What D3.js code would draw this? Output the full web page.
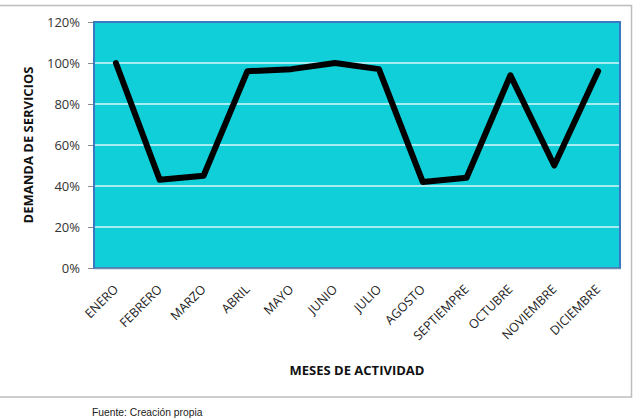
<!DOCTYPE html>
<html>
<head>
<meta charset="utf-8">
<script src="https://cdn.jsdelivr.net/npm/d3@7"></script>
<style>
  body { margin: 0; background: #fff; }
  text { font-family: "Open Sans", Lato, sans-serif; }
</style>
</head>
<body>
<div id="container"></div>
<script>
/* DATA */
const months = ["ENERO", "FEBRERO", "MARZO", "ABRIL", "MAYO", "JUNIO", "JULIO",
  "AGOSTO", "SEPTIEMPRE", "OCTUBRE", "NOVIEMBRE", "DICIEMBRE"];
const demand = [1.00, 0.43, 0.45, 0.96, 0.97, 1.00, 0.97, 0.42, 0.44, 0.94, 0.50, 0.96];
const yTicks = [0, 0.2, 0.4, 0.6, 0.8, 1.0, 1.2];

/* CONSTANTS */
const width = 636, height = 420;
const plot = { left: 94, top: 22, right: 620, bottom: 268 };

const data = months.map((m, i) => ({ month: m, value: demand[i] }));

const svg = d3.select("#container").append("svg")
  .attr("width", width)
  .attr("height", height);

// outer chart frame
svg.append("rect")
  .attr("x", -2).attr("y", 5.5)
  .attr("width", 633.5).attr("height", 391.5)
  .attr("fill", "#fff")
  .attr("stroke", "#bdbdbd")
  .attr("stroke-width", 1.5);

/* SCALES */
const xScale = d3.scaleBand()
  .domain(months)
  .range([plot.left, plot.right]);

const yScale = d3.scaleLinear()
  .domain([0, 1.2])
  .range([plot.bottom, plot.top]);

// plot area
svg.append("rect")
  .attr("x", plot.left).attr("y", plot.top)
  .attr("width", plot.right - plot.left)
  .attr("height", plot.bottom - plot.top)
  .attr("fill", "#10cfd9");

// gridlines
svg.selectAll("line.grid")
  .data(yTicks.filter(d => d > 0 && d < 1.2))
  .join("line")
  .attr("class", "grid")
  .attr("x1", plot.left).attr("x2", plot.right)
  .attr("y1", d => yScale(d)).attr("y2", d => yScale(d))
  .attr("stroke", "#d8f6f8")
  .attr("stroke-width", 1.5);

// plot border
svg.append("rect")
  .attr("x", plot.left).attr("y", plot.top)
  .attr("width", plot.right - plot.left)
  .attr("height", plot.bottom - plot.top)
  .attr("fill", "none")
  .attr("stroke", "#3a78c2")
  .attr("stroke-width", 2);

/* AXES */
const yAxis = d3.axisLeft(yScale)
  .tickValues(yTicks)
  .tickFormat(d3.format(".0%"))
  .tickSize(5)
  .tickPadding(8);

svg.append("g")
  .attr("transform", `translate(${plot.left - 1},0)`)
  .call(yAxis)
  .call(g => g.select(".domain").remove())
  .call(g => g.selectAll(".tick line").attr("stroke", "#8c8c8c"))
  .call(g => g.selectAll(".tick text")
    .attr("fill", "#333")
    .style("font-size", "13px"));

const xAxis = d3.axisBottom(xScale).tickSize(0).tickPadding(0);

svg.append("g")
  .attr("transform", `translate(0,${plot.bottom})`)
  .call(xAxis)
  .call(g => g.select(".domain").attr("stroke", "#6f8fb0").attr("stroke-width", 1.5))
  .call(g => g.selectAll(".tick text")
    .attr("fill", "#222")
    .style("font-size", "12.5px")
    .attr("text-anchor", "end")
    .attr("dy", "0.35em")
    .attr("transform", "translate(0,19) rotate(-45)"));

/* LINE */
const line = d3.line()
  .x(d => xScale(d.month) + xScale.bandwidth() / 2)
  .y(d => yScale(d.value));

svg.append("path")
  .datum(data)
  .attr("d", line)
  .attr("fill", "none")
  .attr("stroke", "#000")
  .attr("stroke-width", 6)
  .attr("stroke-linejoin", "round")
  .attr("stroke-linecap", "round");

/* TITLES */
svg.append("text")
  .attr("x", 357).attr("y", 375)
  .attr("text-anchor", "middle")
  .style("font-size", "13px")
  .style("font-weight", "bold")
  .attr("fill", "#111")
  .text("MESES DE ACTIVIDAD");

svg.append("text")
  .attr("transform", "translate(33,145) rotate(-90)")
  .attr("text-anchor", "middle")
  .style("font-size", "13px")
  .style("font-weight", "bold")
  .attr("fill", "#111")
  .text("DEMANDA DE SERVICIOS");

svg.append("text")
  .attr("x", 92).attr("y", 416)
  .style("font-family", "'Liberation Sans', Arial, sans-serif")
  .style("font-size", "10.3px")
  .attr("fill", "#222")
  .text("Fuente: Creación propia");
</script>
</body>
</html>
